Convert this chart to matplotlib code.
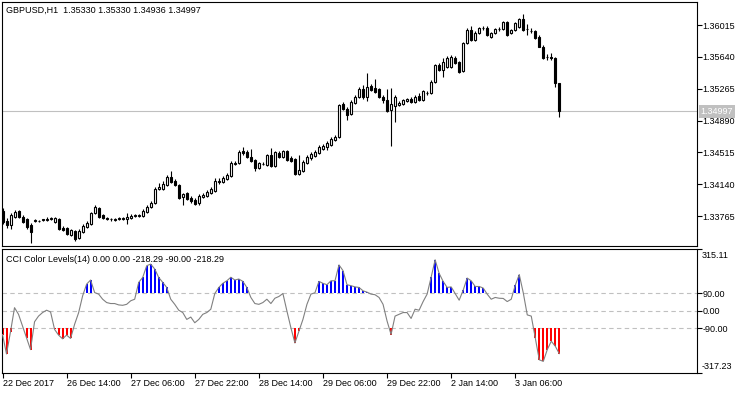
import numpy as np
import matplotlib
matplotlib.use("Agg")
import matplotlib.pyplot as plt
from matplotlib.transforms import blended_transform_factory

plt.rcParams['font.family'] = ['Liberation Sans', 'DejaVu Sans']

# GBPUSD H1 candles, 22 Dec 2017 22:00 .. 3 Jan 2018 17:00
bar_open = [
    1.33825, 1.33707, 1.33660, 1.33754, 1.33825, 1.33754, 1.33730, 1.33660, 1.33707, 1.33707,
    1.33719, 1.33719, 1.33730, 1.33695, 1.33730, 1.33625, 1.33625, 1.33542, 1.33589, 1.33507,
    1.33577, 1.33636, 1.33672, 1.33801, 1.33860, 1.33778, 1.33742, 1.33730, 1.33719, 1.33730,
    1.33730, 1.33730, 1.33742, 1.33766, 1.33766, 1.33766, 1.33813, 1.33872, 1.33919, 1.34084,
    1.34084, 1.34131, 1.34225, 1.34178, 1.34131, 1.33990, 1.34037, 1.33978, 1.33954, 1.33919,
    1.33990, 1.34001, 1.34037, 1.34060, 1.34166, 1.34166, 1.34201, 1.34237, 1.34378, 1.34390,
    1.34531, 1.34520, 1.34461, 1.34425, 1.34331, 1.34378, 1.34366, 1.34484, 1.34354, 1.34508,
    1.34461, 1.34531, 1.34449, 1.34437, 1.34260, 1.34296, 1.34390, 1.34449, 1.34472, 1.34508,
    1.34555, 1.34578, 1.34602, 1.34661, 1.34695, 1.35085, 1.35026, 1.34967, 1.35096, 1.35167,
    1.35261, 1.35167, 1.35296, 1.35273, 1.35261, 1.35167, 1.35132, 1.35014, 1.35061, 1.35073,
    1.35085, 1.35120, 1.35143, 1.35108, 1.35179, 1.35132, 1.35214, 1.35214, 1.35343, 1.35544,
    1.35485, 1.35521, 1.35521, 1.35626, 1.35579, 1.35473, 1.35803, 1.35956, 1.35838, 1.35921,
    1.35980, 1.35980, 1.35874, 1.35921, 1.35968, 1.35968, 1.36050, 1.35921, 1.35956, 1.35992,
    1.36085, 1.35968, 1.35944, 1.35944, 1.35874, 1.35756, 1.35638, 1.35638, 1.35626, 1.35330,
]
bar_high = [
    1.33860, 1.33742, 1.33801, 1.33836, 1.33836, 1.33778, 1.33742, 1.33683, 1.33730, 1.33719,
    1.33730, 1.33754, 1.33754, 1.33754, 1.33742, 1.33648, 1.33636, 1.33613, 1.33601, 1.33613,
    1.33672, 1.33707, 1.33813, 1.33895, 1.33872, 1.33789, 1.33754, 1.33742, 1.33742, 1.33754,
    1.33754, 1.33801, 1.33789, 1.33789, 1.33789, 1.33848, 1.33895, 1.33942, 1.34107, 1.34154,
    1.34178, 1.34248, 1.34296, 1.34201, 1.34143, 1.34037, 1.34048, 1.34001, 1.33978, 1.34025,
    1.34037, 1.34072, 1.34107, 1.34213, 1.34213, 1.34237, 1.34272, 1.34413, 1.34413, 1.34543,
    1.34578, 1.34543, 1.34555, 1.34437, 1.34401, 1.34401, 1.34496, 1.34567, 1.34531, 1.34531,
    1.34543, 1.34543, 1.34472, 1.34449, 1.34484, 1.34425, 1.34484, 1.34520, 1.34543, 1.34602,
    1.34614, 1.34649, 1.34695, 1.34719, 1.35085, 1.35108, 1.35049, 1.35132, 1.35190, 1.35285,
    1.35308, 1.35450, 1.35320, 1.35379, 1.35273, 1.35190, 1.35261, 1.35273, 1.35190, 1.35120,
    1.35143, 1.35155, 1.35167, 1.35190, 1.35214, 1.35249, 1.35237, 1.35367, 1.35556, 1.35568,
    1.35626, 1.35650, 1.35661, 1.35650, 1.35591, 1.35814, 1.35980, 1.36003, 1.35944, 1.35992,
    1.36003, 1.36003, 1.35933, 1.35980, 1.35992, 1.36062, 1.36062, 1.35968, 1.36050, 1.36097,
    1.36144, 1.36027, 1.35980, 1.35956, 1.35897, 1.35779, 1.35673, 1.35685, 1.35638, 1.35330,
]
bar_low = [
    1.33672, 1.33625, 1.33613, 1.33742, 1.33742, 1.33683, 1.33613, 1.33448, 1.33695, 1.33695,
    1.33707, 1.33707, 1.33719, 1.33683, 1.33601, 1.33589, 1.33542, 1.33530, 1.33471, 1.33495,
    1.33566, 1.33625, 1.33660, 1.33789, 1.33742, 1.33730, 1.33719, 1.33707, 1.33707, 1.33719,
    1.33719, 1.33672, 1.33730, 1.33754, 1.33754, 1.33754, 1.33801, 1.33860, 1.33907, 1.34072,
    1.34072, 1.34119, 1.34154, 1.34119, 1.33966, 1.33895, 1.33954, 1.33919, 1.33895, 1.33895,
    1.33978, 1.33990, 1.34025, 1.34048, 1.34143, 1.34154, 1.34190, 1.34225, 1.34366, 1.34378,
    1.34484, 1.34449, 1.34401, 1.34296, 1.34319, 1.34366, 1.34354, 1.34343, 1.34343, 1.34449,
    1.34449, 1.34413, 1.34401, 1.34248, 1.34248, 1.34284, 1.34378, 1.34425, 1.34461, 1.34496,
    1.34543, 1.34543, 1.34590, 1.34649, 1.34684, 1.35014, 1.34896, 1.34955, 1.35085, 1.35155,
    1.35143, 1.35120, 1.35237, 1.35214, 1.35155, 1.35096, 1.34991, 1.34590, 1.34872, 1.35061,
    1.35073, 1.35108, 1.35096, 1.35096, 1.35120, 1.35120, 1.35190, 1.35202, 1.35332, 1.35473,
    1.35403, 1.35509, 1.35509, 1.35556, 1.35450, 1.35462, 1.35791, 1.35826, 1.35826, 1.35909,
    1.35956, 1.35886, 1.35862, 1.35909, 1.35944, 1.35956, 1.35886, 1.35909, 1.35944, 1.35980,
    1.35944, 1.35897, 1.35921, 1.35850, 1.35756, 1.35614, 1.35603, 1.35603, 1.35285, 1.34936,
]
bar_close = [
    1.33695, 1.33660, 1.33778, 1.33813, 1.33754, 1.33695, 1.33636, 1.33577, 1.33719, 1.33707,
    1.33730, 1.33730, 1.33742, 1.33742, 1.33613, 1.33601, 1.33554, 1.33601, 1.33495, 1.33589,
    1.33648, 1.33683, 1.33801, 1.33872, 1.33754, 1.33742, 1.33730, 1.33728, 1.33730, 1.33742,
    1.33742, 1.33754, 1.33766, 1.33778, 1.33778, 1.33825, 1.33872, 1.33919, 1.34084, 1.34107,
    1.34143, 1.34225, 1.34166, 1.34131, 1.33978, 1.34025, 1.33966, 1.33942, 1.33907, 1.34001,
    1.34013, 1.34048, 1.34084, 1.34178, 1.34178, 1.34213, 1.34248, 1.34390, 1.34390, 1.34520,
    1.34508, 1.34461, 1.34413, 1.34331, 1.34390, 1.34378, 1.34484, 1.34354, 1.34520, 1.34461,
    1.34531, 1.34425, 1.34413, 1.34260, 1.34307, 1.34401, 1.34461, 1.34496, 1.34520, 1.34578,
    1.34590, 1.34625, 1.34672, 1.34695, 1.35073, 1.35026, 1.34955, 1.35108, 1.35167, 1.35261,
    1.35167, 1.35285, 1.35249, 1.35226, 1.35167, 1.35132, 1.35002, 1.35085, 1.35167, 1.35096,
    1.35132, 1.35143, 1.35108, 1.35167, 1.35132, 1.35237, 1.35214, 1.35343, 1.35544, 1.35485,
    1.35579, 1.35626, 1.35638, 1.35568, 1.35462, 1.35803, 1.35956, 1.35838, 1.35921, 1.35980,
    1.35980, 1.35897, 1.35921, 1.35968, 1.35968, 1.36050, 1.35897, 1.35956, 1.36039, 1.36085,
    1.35956, 1.35968, 1.35944, 1.35862, 1.35756, 1.35626, 1.35638, 1.35626, 1.35332, 1.34997,
]

# CCI(14)
cci_values = [
    -121, -220, -107, 16, -18, -78, -138, -198, -56, -27,
    -9, 3, -6, -95, -124, -143, -124, -141, -69, -10,
    76, 136, 157, 93, 85, 59, 42, 37, 37, 30,
    28, 33, 51, 59, 145, 170, 230, 238, 213, 170,
    145, 119, 59, 33, 3, -9, -44, -32, -61, -44,
    -18, -9, 8, 88, 119, 140, 153, 171, 157, 162,
    150, 119, 68, 37, 33, 42, 59, 37, 64, 73,
    88, -1, -87, -164, -104, -44, 33, 85, 92, 150,
    140, 133, 153, 153, 234, 205, 133, 128, 122, 119,
    102, 95, 85, 82, 68, 33, -52, -121, -27, -18,
    -9, -9, -39, 8, 3, 47, 85, 171, 260, 191,
    150, 119, 122, 88, 54, 105, 167, 153, 124, 124,
    116, 85, 59, 68, 64, 63, 47, 59, 130, 185,
    92, -21, -27, -138, -250, -258, -198, -155, -181, -218.29,
]

price_ticks = [1.36015, 1.35640, 1.35265, 1.34890, 1.34515, 1.34140, 1.33765]
cci_levels = [90.0, 0.0, -90.0]
cci_range = (-317.23, 315.11)
time_tick_bars = [0, 16, 32, 48, 64, 80, 96, 112, 128]
time_tick_labels = ["22 Dec 2017", "26 Dec 14:00", "27 Dec 06:00", "27 Dec 22:00",
                    "28 Dec 14:00", "29 Dec 06:00", "29 Dec 22:00", "2 Jan 14:00", "3 Jan 06:00"]
last_price = 1.34997

FS = 6.5
W, H = 750, 394

fig = plt.figure(figsize=(W / 100, H / 100), dpi=100)
ax1 = fig.add_axes([1.5 / W, 1 - 246 / H, 695 / W, 244 / H])
ax2 = fig.add_axes([1.5 / W, 1 - 373 / H, 695 / W, 124 / H])

idx = np.arange(len(bar_open))
o = np.array(bar_open)
hi = np.array(bar_high)
lo = np.array(bar_low)
c = np.array(bar_close)
up = c >= o

# price pane
ax1.vlines(idx, lo, hi, color='black', linewidth=0.8, zorder=2)
ax1.bar(idx, np.abs(c - o), bottom=np.minimum(o, c), width=0.5,
        color=np.where(up, 'white', 'black'), edgecolor='black', linewidth=0.8, zorder=3)
ax1.axhline(last_price, color='#C0C0C0', linewidth=0.8, zorder=1)

ax1.set_xlim(-0.25, 173.25)
ax1.set_ylim(1.33413, 1.36286)
ax1.yaxis.tick_right()
ax1.set_yticks(price_ticks)
ax1.set_yticklabels([f"{p:.5f}" for p in price_ticks])
ax1.tick_params(axis='y', length=3.5, width=0.8, pad=1, labelsize=FS)
ax1.set_xticks([])

ax1.annotate(f"{last_price:.5f}", xy=(1.0, last_price),
             xycoords=blended_transform_factory(ax1.transAxes, ax1.transData),
             xytext=(3, 0), textcoords='offset points', ha='left', va='center',
             fontsize=FS, color='white', zorder=5, annotation_clip=False,
             bbox=dict(boxstyle='square,pad=0.2', facecolor='#C0C0C0', edgecolor='none'))

ax1.text(5 / 695, 1 - 8 / 244, "GBPUSD,H1  " + " ".join(f"{v:.5f}" for v in
         (bar_open[-1], bar_high[-1], bar_low[-1], bar_close[-1])),
         transform=ax1.transAxes, ha='left', va='center', fontsize=FS)

# CCI pane
cci = np.array(cci_values)
for level in cci_levels:
    ax2.axhline(level, color='#C0C0C0', linewidth=0.8, linestyle=(0, (4, 3)), zorder=1)
above = cci > cci_levels[0]
below = cci < cci_levels[2]
ax2.bar(idx[above], cci[above] - cci_levels[0], bottom=cci_levels[0], width=0.5,
        color='#0000FF', linewidth=0, zorder=2)
ax2.bar(idx[below], cci[below] - cci_levels[2], bottom=cci_levels[2], width=0.5,
        color='#FF0000', linewidth=0, zorder=2)
ax2.plot(idx, cci, color='#808080', linewidth=0.8, zorder=3)

ax2.set_xlim(-0.25, 173.25)
ax2.set_ylim(*cci_range)
ax2.yaxis.tick_right()
ax2.set_yticks(cci_levels + list(cci_range))
ax2.set_yticklabels([f"{v:.2f}" for v in cci_levels] + ["", ""])
ax2.tick_params(axis='y', length=3.5, width=0.8, pad=1, labelsize=FS)
ytr = blended_transform_factory(ax2.transAxes, ax2.transData)
ax2.annotate(f"{cci_range[1]:.2f}", xy=(1.0, cci_range[1]), xycoords=ytr, xytext=(3.5, -1.5),
             textcoords='offset points', ha='left', va='top', fontsize=FS, annotation_clip=False)
ax2.annotate(f"{cci_range[0]:.2f}", xy=(1.0, cci_range[0]), xycoords=ytr, xytext=(3.5, 1.5),
             textcoords='offset points', ha='left', va='bottom', fontsize=FS, annotation_clip=False)

ax2.set_xticks(time_tick_bars)
ax2.set_xticklabels(time_tick_labels, ha='left')
ax2.tick_params(axis='x', length=3.5, width=0.8, pad=1, labelsize=FS)

ax2.text(5 / 695, 1 - 11 / 124,
         f"CCI Color Levels(14) 0.00 0.00 {cci_values[-1]:.2f} {cci_levels[2]:.2f} {cci_values[-1]:.2f}",
         transform=ax2.transAxes, ha='left', va='center', fontsize=FS)

for ax in (ax1, ax2):
    for sp in ax.spines.values():
        sp.set_linewidth(0.8)
        sp.set_color('black')

fig.savefig('out.png', dpi=100)
